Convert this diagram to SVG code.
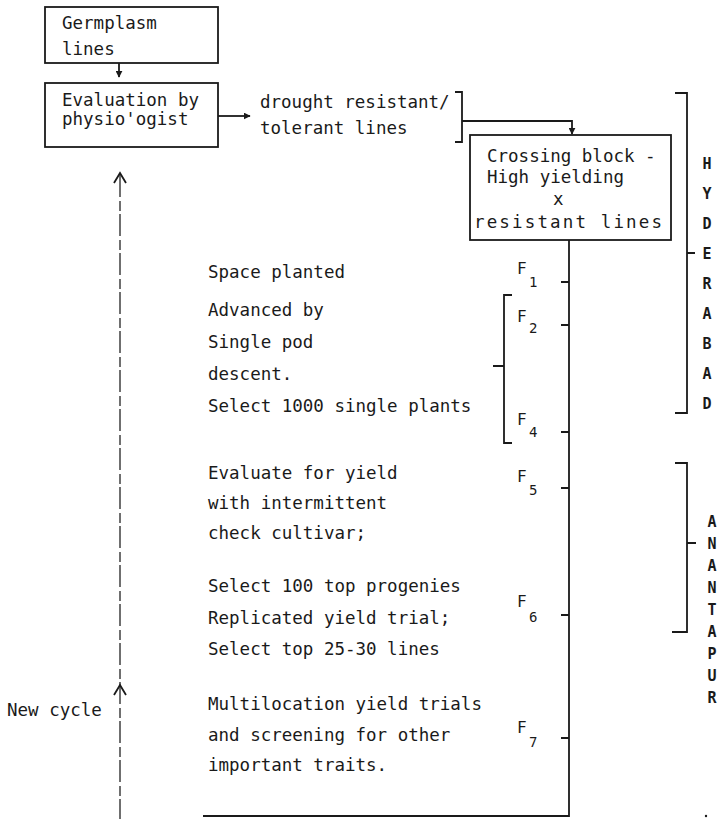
<svg xmlns="http://www.w3.org/2000/svg" width="726" height="819" viewBox="0 0 726 819">
<defs>
<style>
.t{font-family:"DejaVu Sans Mono","Liberation Mono",monospace;font-size:17.5px;fill:#1a1a1a}
.f{font-family:"DejaVu Sans Mono","Liberation Mono",monospace;font-size:16px;fill:#1a1a1a}
.s{font-family:"DejaVu Sans Mono","Liberation Mono",monospace;font-size:14px;fill:#1a1a1a}
.loc{font-family:"DejaVu Sans Mono","Liberation Mono",monospace;font-size:15px;font-weight:bold;fill:#1a1a1a;text-anchor:middle}
.box{fill:#fff;stroke:#1a1a1a;stroke-width:1.8}
.ln{fill:none;stroke:#1a1a1a;stroke-width:1.8}
.dash{fill:none;stroke:#333;stroke-width:1.4;stroke-dasharray:22 4 10 3}
</style>
<marker id="ah" viewBox="0 0 10 10" refX="9" refY="5" markerWidth="7" markerHeight="7" orient="auto" markerUnits="userSpaceOnUse">
<path d="M0,0 L10,5 L0,10 z" fill="#1a1a1a"/>
</marker>
</defs>
<rect width="726" height="819" fill="#fff"/>

<g id="connectors">
<line class="ln" x1="119" y1="63" x2="119" y2="77" marker-end="url(#ah)"/>
<line class="ln" x1="218" y1="116" x2="250" y2="116" marker-end="url(#ah)"/>
<path class="ln" d="M455,92 H462 V142 H455"/>
<path class="ln" d="M462,121 H572 V134" marker-end="url(#ah)"/>
<path class="ln" d="M569,240 V816 H203"/>
<path class="dash" d="M120,175 V819"/>
<path class="ln" d="M114,183 L120,173 L126,183"/>
<path class="ln" d="M114,695 L120,685 L126,695"/>
<path class="ln" d="M561,282 H569 M561,325 H569 M561,432 H569 M561,488 H569 M561,615 H569 M561,738 H569"/>
<path class="ln" d="M512,295 H504 V443 H512 M493,366 H504"/>
<path class="ln" d="M675,93 H687 V413 H675 M687,253 H695"/>
<path class="ln" d="M675,463 H687 V632 H672 M687,543 H696"/>
</g>

<g id="germplasm">
<rect class="box" x="45" y="7" width="173" height="56"/>
<text class="t" x="62" y="29">Germplasm</text>
<text class="t" x="62" y="55">lines</text>
</g>

<g id="evaluation">
<rect class="box" x="45" y="83" width="173" height="64"/>
<text class="t" x="62" y="106">Evaluation by</text>
<text class="t" x="62" y="125">physio'ogist</text>
</g>

<g id="drought">
<text class="t" x="260" y="108">drought resistant/</text>
<text class="t" x="260" y="134">tolerant lines</text>
</g>

<g id="crossing">
<rect class="box" x="470" y="135" width="201" height="105"/>
<text class="t" x="487" y="162">Crossing block -</text>
<text class="t" x="487" y="183">High yielding</text>
<text class="t" x="553" y="205">x</text>
<text class="t" x="474" y="228" textLength="188" lengthAdjust="spacing">resistant lines</text>
</g>

<g id="stage-f1">
<text class="t" x="208" y="278">Space planted</text>
<text class="f" x="517" y="274">F</text><text class="s" x="529" y="287">1</text>
</g>

<g id="stage-f2-f4">
<text class="t" x="208" y="316">Advanced by</text>
<text class="t" x="208" y="348">Single pod</text>
<text class="t" x="208" y="380">descent.</text>
<text class="t" x="208" y="412">Select 1000 single plants</text>
<text class="f" x="517" y="322">F</text><text class="s" x="529" y="333">2</text>
<text class="f" x="517" y="425">F</text><text class="s" x="529" y="437">4</text>
</g>

<g id="stage-f5">
<text class="t" x="208" y="479">Evaluate for yield</text>
<text class="t" x="208" y="509">with intermittent</text>
<text class="t" x="208" y="539">check cultivar;</text>
<text class="f" x="517" y="482">F</text><text class="s" x="529" y="495">5</text>
</g>

<g id="stage-f6">
<text class="t" x="208" y="592">Select 100 top progenies</text>
<text class="t" x="208" y="624">Replicated yield trial;</text>
<text class="t" x="208" y="655">Select top 25-30 lines</text>
<text class="f" x="517" y="607">F</text><text class="s" x="529" y="622">6</text>
</g>

<g id="stage-f7">
<text class="t" x="208" y="710">Multilocation yield trials</text>
<text class="t" x="208" y="741">and screening for other</text>
<text class="t" x="208" y="771">important traits.</text>
<text class="f" x="517" y="733">F</text><text class="s" x="529" y="747">7</text>
</g>

<g id="new-cycle">
<text class="t" x="7" y="716">New cycle</text>
</g>

<g id="hyderabad">
<text class="loc" x="707" y="169">H</text>
<text class="loc" x="707" y="199">Y</text>
<text class="loc" x="707" y="229">D</text>
<text class="loc" x="707" y="259">E</text>
<text class="loc" x="707" y="289">R</text>
<text class="loc" x="707" y="319">A</text>
<text class="loc" x="707" y="349">B</text>
<text class="loc" x="707" y="379">A</text>
<text class="loc" x="707" y="409">D</text>
</g>

<g id="anantapur">
<text class="loc" x="712" y="527">A</text>
<text class="loc" x="712" y="549">N</text>
<text class="loc" x="712" y="571">A</text>
<text class="loc" x="712" y="593">N</text>
<text class="loc" x="712" y="615">T</text>
<text class="loc" x="712" y="637">A</text>
<text class="loc" x="712" y="659">P</text>
<text class="loc" x="712" y="681">U</text>
<text class="loc" x="712" y="703">R</text>
</g>

<circle cx="706" cy="816" r="1.2" fill="#1a1a1a"/>
</svg>
